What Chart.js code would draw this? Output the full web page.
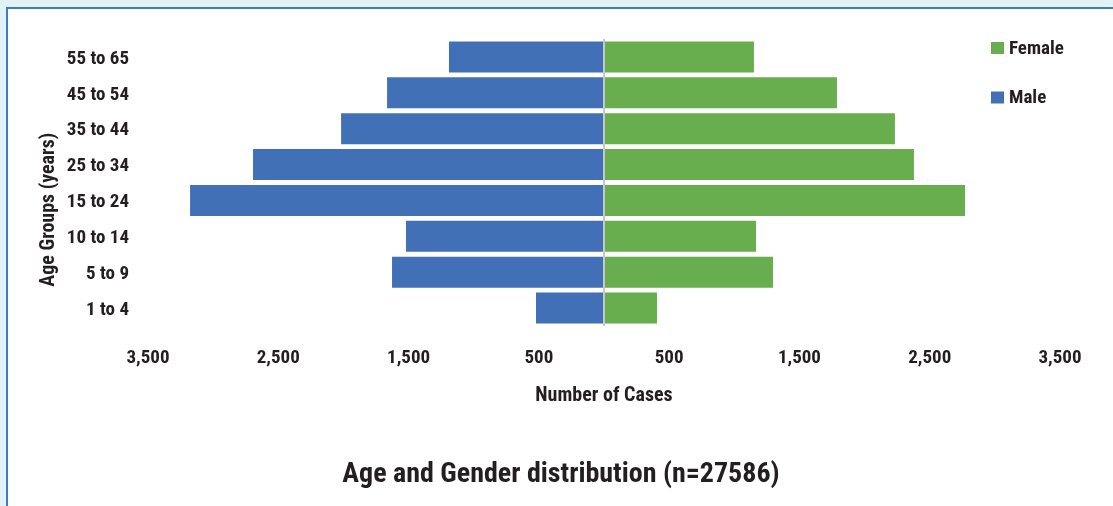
<!DOCTYPE html>
<html>
<head>
<meta charset="utf-8">
<script src="https://cdn.jsdelivr.net/npm/chart.js@4.4.1/dist/chart.umd.min.js"></script>
<style>
  html, body { margin: 0; padding: 0; background: #e3f2f4; overflow: hidden; }
  #frame { position: absolute; left: 6px; top: 7px; width: 1200px; height: 600px; background: #fff;
           border-top: 2px solid #3b7bcb; border-left: 2px solid #3b7bcb; }
  #wrap { position: absolute; left: 0; top: 0; width: 1113px; height: 506px; }
</style>
</head>
<body>
<div id="frame"></div>
<div id="wrap"><canvas id="c" width="1113" height="506"></canvas></div>
<script>
const categories = ['55 to 65', '45 to 54', '35 to 44', '25 to 34', '15 to 24', '10 to 14', '5 to 9', '1 to 4'];
const maleCases = [1190, 1665, 2018, 2694, 3177, 1520, 1627, 522];
const femaleCases = [1151, 1788, 2233, 2379, 2771, 1167, 1297, 407];
const xTickValues = [-3500, -2500, -1500, -500, 0, 500, 1500, 2500, 3500];
const seriesNames = ['Male', 'Female'];
const chartTitle = 'Age and Gender distribution (n=27586)';
const xTitle = 'Number of Cases';
const yTitle = 'Age Groups (years)';

const FONT = "'Roboto Condensed', 'DejaVu Sans Condensed', sans-serif";
const TXT = '#231f20';
const BLUE = '#4270b7';
const GREEN = '#68ad4e';

const extras = {
  id: 'extras',
  afterDraw(chart) {
    const ctx = chart.ctx;
    const ca = chart.chartArea;
    // y axis title
    ctx.save();
    ctx.fillStyle = TXT;
    ctx.font = 'bold 20px ' + FONT;
    ctx.textAlign = 'center';
    ctx.textBaseline = 'middle';
    ctx.translate(49, ca.top + (ca.bottom - ca.top) * 0.595);
    ctx.rotate(-Math.PI / 2);
    ctx.fillText(yTitle, 0, 0);
    ctx.restore();
    // x axis title
    ctx.save();
    ctx.fillStyle = TXT;
    ctx.font = 'bold 20px ' + FONT;
    ctx.textAlign = 'center';
    ctx.textBaseline = 'middle';
    ctx.fillText(xTitle, (ca.left + ca.right) / 2, ca.bottom + 70);
    // chart title
    ctx.font = 'bold 28px ' + FONT;
    ctx.fillText(chartTitle, 561, ca.bottom + 149);
    ctx.restore();
    // legend (Female on top, Male below)
    ctx.save();
    const items = [[seriesNames[1], GREEN], [seriesNames[0], BLUE]];
    ctx.font = 'bold 19px ' + FONT;
    ctx.textBaseline = 'middle';
    ctx.textAlign = 'left';
    items.forEach((it, i) => {
      const cy = ca.top + 9 + i * 49.5;
      ctx.fillStyle = it[1];
      ctx.fillRect(ca.right - 69, cy - 6, 13, 12);
      ctx.fillStyle = TXT;
      ctx.fillText(it[0], ca.right - 51, cy + 1);
    });
    ctx.restore();
  }
};

new Chart(document.getElementById('c'), {
  type: 'bar',
  data: {
    labels: categories,
    datasets: [
      { label: seriesNames[0], data: maleCases.map(v => -v), backgroundColor: BLUE, borderWidth: 0,
        categoryPercentage: 1, barPercentage: 0.865 },
      { label: seriesNames[1], data: femaleCases, backgroundColor: GREEN, borderWidth: 0,
        categoryPercentage: 1, barPercentage: 0.865 }
    ]
  },
  options: {
    indexAxis: 'y',
    responsive: false,
    animation: false,
    layout: { padding: { left: 0, right: 53, top: 39, bottom: 0 } },
    plugins: { legend: { display: false }, tooltip: { enabled: false } },
    scales: {
      x: {
        stacked: true, min: -3500, max: 3500, z: 1,
        afterBuildTicks(scale) { scale.ticks = xTickValues.map(v => ({ value: v })); },
        afterFit(scale) { scale.height = 180; },
        ticks: { autoSkip: false, maxRotation: 0, color: TXT, padding: 21,
          font: { family: FONT, size: 19, weight: 'bold' },
          callback: (v) => v === 0 ? '' : Math.abs(v).toLocaleString('en-US') },
        grid: { drawTicks: false, lineWidth: 2,
          color: (c) => (c.tick && c.tick.value === 0) ? '#c8c8c8' : 'rgba(0,0,0,0)' },
        border: { display: false }
      },
      y: {
        stacked: true,
        afterFit(scale) { scale.width = 148; },
        ticks: { color: TXT, padding: 19, labelOffset: 2, font: { family: FONT, size: 19, weight: 'bold' } },
        grid: { display: false, drawTicks: false },
        border: { display: false }
      }
    }
  },
  plugins: [extras]
});
</script>
</body>
</html>
